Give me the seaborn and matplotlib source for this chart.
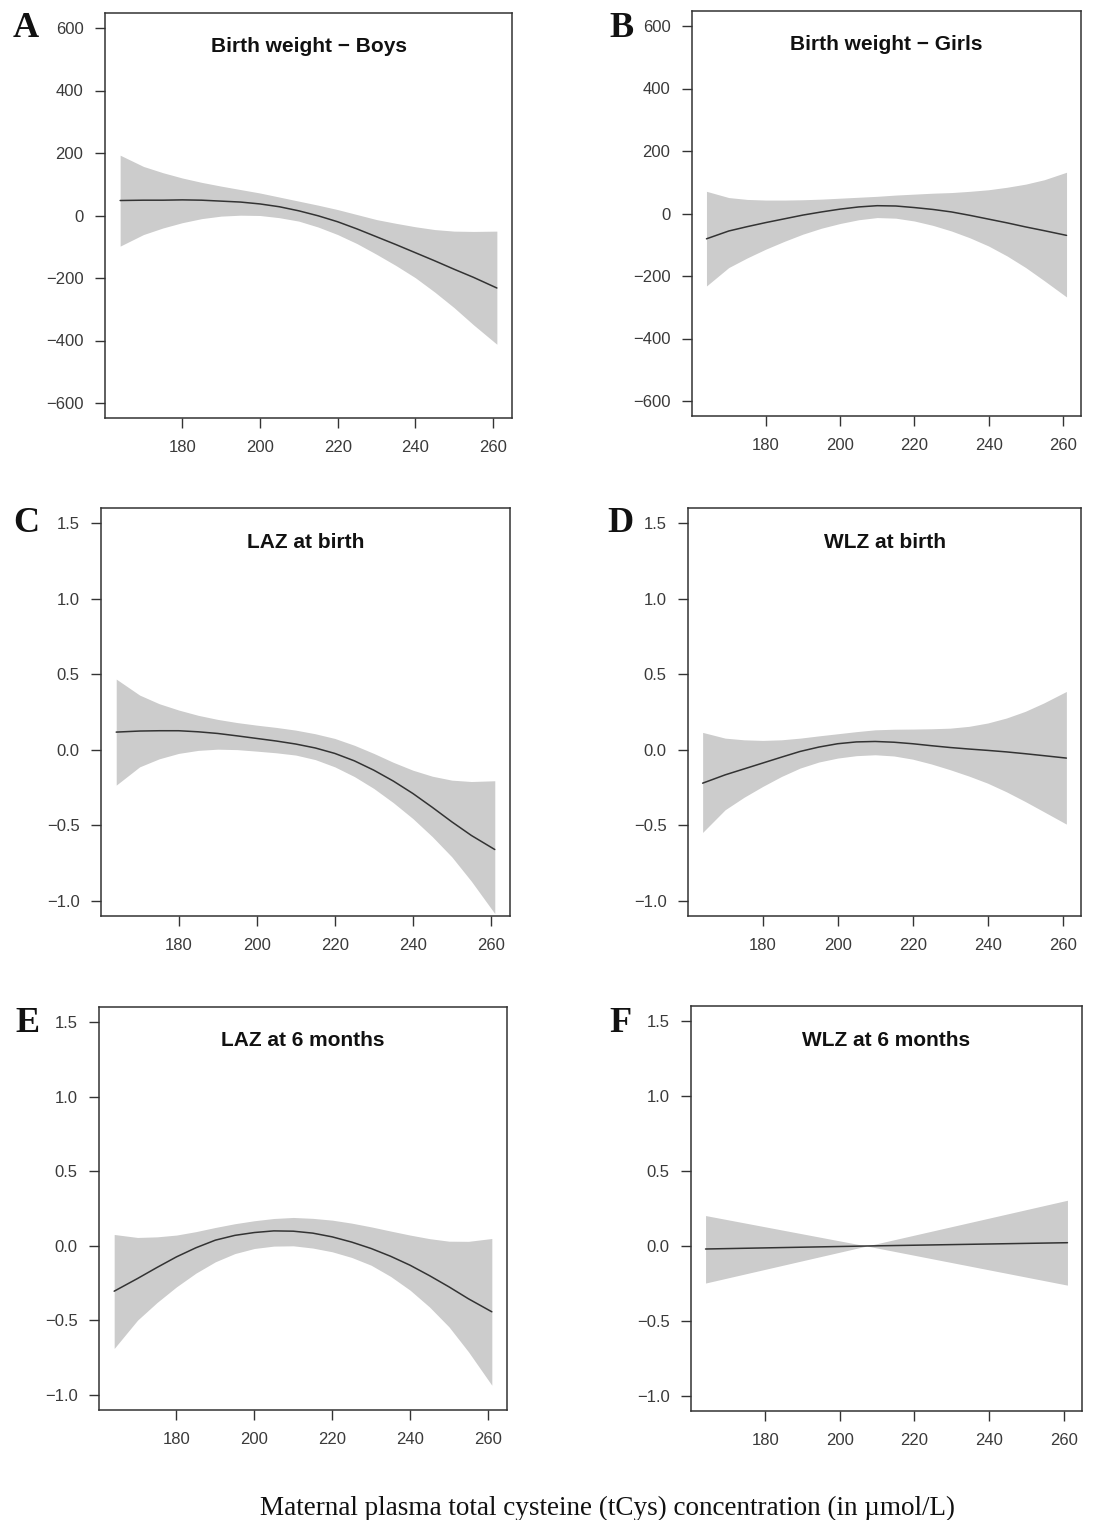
import matplotlib
matplotlib.use("Agg")
import matplotlib.pyplot as plt
import seaborn as sns
import pandas as pd

# ---------------- data ----------------
x_grid = [164, 170, 175, 180, 185, 190, 195, 200, 205, 210,
          215, 220, 225, 230, 235, 240, 245, 250, 255, 261]

a_fit   = [48, 49, 49, 50, 49, 46, 43, 37, 28, 15,
           -1, -20, -43, -68, -93, -119, -145, -172, -198, -232]
a_upper = [193, 157, 137, 120, 106, 94, 83, 72, 59, 46,
           33, 19, 3, -13, -25, -36, -45, -50, -51, -50]
a_lower = [-98, -61, -40, -23, -10, -2, 1, 0, -7, -18,
           -37, -61, -90, -124, -160, -199, -245, -295, -350, -412]

b_fit   = [-81, -56, -42, -29, -17, -5, 5, 14, 21, 25,
           24, 19, 13, 5, -6, -18, -30, -43, -55, -70]
b_upper = [71, 51, 45, 43, 43, 44, 46, 49, 52, 55,
           59, 62, 65, 67, 71, 76, 84, 94, 108, 132]
b_lower = [-232, -173, -142, -114, -89, -66, -47, -32, -20, -13,
           -15, -24, -38, -56, -78, -104, -136, -173, -215, -267]

c_fit   = [0.117, 0.124, 0.126, 0.126, 0.119, 0.108, 0.092, 0.075, 0.058, 0.038,
           0.012, -0.024, -0.073, -0.135, -0.207, -0.289, -0.381, -0.477, -0.567, -0.660]
c_upper = [0.468, 0.362, 0.305, 0.263, 0.228, 0.201, 0.180, 0.163, 0.148, 0.130,
           0.106, 0.075, 0.030, -0.024, -0.083, -0.135, -0.175, -0.201, -0.210, -0.205]
c_lower = [-0.234, -0.113, -0.060, -0.024, -0.004, 0.004, 0.001, -0.009, -0.020, -0.035,
           -0.065, -0.113, -0.177, -0.256, -0.350, -0.455, -0.575, -0.709, -0.870, -1.084]

d_fit   = [-0.221, -0.166, -0.127, -0.088, -0.049, -0.011, 0.018, 0.040, 0.052, 0.055,
           0.050, 0.040, 0.027, 0.015, 0.005, -0.004, -0.014, -0.026, -0.039, -0.055]
d_upper = [0.115, 0.077, 0.066, 0.062, 0.066, 0.077, 0.092, 0.106, 0.120, 0.132,
           0.136, 0.137, 0.139, 0.143, 0.155, 0.177, 0.210, 0.254, 0.310, 0.386]
d_lower = [-0.547, -0.397, -0.315, -0.243, -0.177, -0.121, -0.081, -0.055, -0.039, -0.033,
           -0.041, -0.062, -0.094, -0.132, -0.174, -0.221, -0.278, -0.342, -0.410, -0.492]

e_fit   = [-0.304, -0.219, -0.145, -0.074, -0.013, 0.038, 0.070, 0.089, 0.100, 0.098,
           0.085, 0.060, 0.025, -0.018, -0.070, -0.130, -0.200, -0.275, -0.355, -0.442]
e_upper = [0.076, 0.056, 0.060, 0.072, 0.095, 0.123, 0.148, 0.168, 0.183, 0.190,
           0.184, 0.172, 0.152, 0.127, 0.099, 0.072, 0.048, 0.031, 0.030, 0.049]
e_lower = [-0.688, -0.498, -0.380, -0.275, -0.183, -0.107, -0.052, -0.018, -0.002, 0.000,
           -0.015, -0.040, -0.078, -0.130, -0.205, -0.297, -0.410, -0.543, -0.710, -0.934]

f_x     = [164, 207.2, 261]
f_fit   = [-0.020, 0.0, 0.022]
f_upper = [0.203, 0.0, 0.305]
f_lower = [-0.247, 0.0, -0.261]

panel_letters = ["A", "B", "C", "D", "E", "F"]
panel_titles = ["Birth weight \u2212 Boys", "Birth weight \u2212 Girls",
                "LAZ at birth", "WLZ at birth",
                "LAZ at 6 months", "WLZ at 6 months"]
x_ticks = [180, 200, 220, 240, 260]
bw_ticks = [-600, -400, -200, 0, 200, 400, 600]
z_ticks = [-1.0, -0.5, 0.0, 0.5, 1.0, 1.5]
x_label = "Maternal plasma total cysteine (tCys) concentration (in \u00b5mol/L)"

# ---------------- figure ----------------
sns.set_theme(style="white")
plt.rcParams["font.family"] = ["Liberation Sans", "DejaVu Sans"]

W, H = 1104, 1520
fig = plt.figure(figsize=(W / 100, H / 100), dpi=100)

def rect(l, r, t, b):
    return [l / W, 1 - b / H, (r - l) / W, (b - t) / H]

boxes = [
    (105, 512, 13, 418),
    (692, 1081, 11, 416),
    (101, 510, 508, 916),
    (688, 1081, 508, 916),
    (99, 507, 1007, 1410),
    (691, 1082, 1006, 1411),
]

panels = [
    (x_grid, a_fit, a_lower, a_upper, bw_ticks, (-648, 648)),
    (x_grid, b_fit, b_lower, b_upper, bw_ticks, (-648, 648)),
    (x_grid, c_fit, c_lower, c_upper, z_ticks, (-1.1, 1.6)),
    (x_grid, d_fit, d_lower, d_upper, z_ticks, (-1.1, 1.6)),
    (x_grid, e_fit, e_lower, e_upper, z_ticks, (-1.1, 1.6)),
    (f_x, f_fit, f_lower, f_upper, z_ticks, (-1.1, 1.6)),
]

letter_pos = [(13, 37), (609, 37), (13, 532), (607, 532), (15, 1032), (609, 1032)]

edge = "#333333"
for i, (box, pdata) in enumerate(zip(boxes, panels)):
    xs, fit, lo, hi, yt, ylim = pdata
    ax = fig.add_axes(rect(*box))
    df = pd.DataFrame({"x": xs, "fit": fit, "lo": lo, "hi": hi})
    ax.fill_between(df["x"], df["lo"], df["hi"], color="#cccccc", lw=0, zorder=1)
    sns.lineplot(data=df, x="x", y="fit", ax=ax, color="#333333", lw=1.1, zorder=2)
    ax.set_xlim(160.1, 264.9)
    ax.set_ylim(*ylim)
    ax.set_xticks(x_ticks)
    ax.set_yticks(yt)
    if ylim[1] < 10:
        ax.set_yticklabels([f"{v:.1f}".replace("-", "\u2212") for v in yt])
    else:
        ax.set_yticklabels([f"{v:d}".replace("-", "\u2212") for v in yt])
    ax.set_xlabel("")
    ax.set_ylabel("")
    for s in ax.spines.values():
        s.set_visible(True)
        s.set_color(edge)
        s.set_linewidth(1.1)
    ax.tick_params(axis="both", direction="out", length=7.5, width=1.0,
                   color=edge, labelsize=12, labelcolor="#3a3a3a", pad=8,
                   left=True, bottom=True)
    ax.grid(False)
    h = box[3] - box[2]
    ax.text(0.5, 1 - 34 / h, panel_titles[i], transform=ax.transAxes,
            ha="center", va="center", fontsize=15, fontweight="bold",
            color="#111111")
    lx, ly = letter_pos[i]
    fig.text(lx / W, 1 - ly / H, panel_letters[i], ha="left", va="baseline",
             fontsize=26, fontweight="bold", family=["Liberation Serif", "DejaVu Serif"],
             color="#111111")

fig.text(607 / W, 1 - 1515 / H, x_label, ha="center", va="baseline",
         fontsize=19.5, family=["Liberation Serif", "DejaVu Serif"], color="#111111")

fig.savefig("out.png", dpi=100, facecolor="white")
